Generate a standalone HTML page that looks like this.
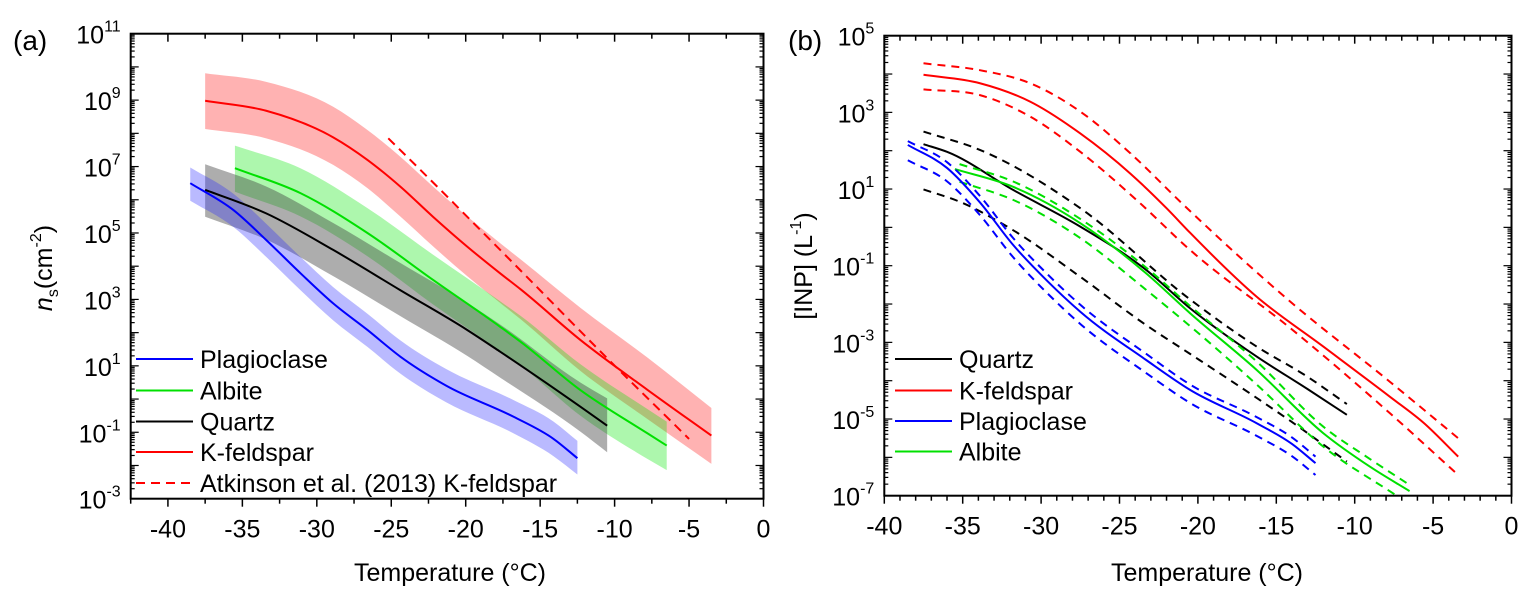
<!DOCTYPE html>
<html><head><meta charset="utf-8"><style>
html,body{margin:0;padding:0;background:#fff;}
svg{display:block;font-family:"Liberation Sans",Arial,sans-serif;}
</style></head><body>
<svg id="chart" width="1539" height="602" viewBox="0 0 1539 602" xmlns="http://www.w3.org/2000/svg">
<defs>
<clipPath id="clipA"><rect x="130.7" y="33.7" width="632.8" height="465"/></clipPath>
<clipPath id="clipB"><rect x="884.3" y="35.7" width="627.2" height="460"/></clipPath>
</defs>
</svg>
<script>
// ---------- Panel (a) data: log10 ns vs temperature ----------
const aKfT = [-37.5,-33.4,-28.9,-26.6,-24.4,-22.2,-19.9,-17.7,-16.3,-12.3,-7.8,-3.5];
const aKfMid = [8.98,8.68,7.88,7.2,6.4,5.49,4.59,3.79,3.3,1.78,0.28,-1.1];
const aKfUp = [9.81,9.55,8.8,8.1,7.3,6.4,5.5,4.7,4.2,2.75,1.25,-0.27];
const aKfLo = [8.13,7.85,7.05,6.35,5.5,4.6,3.7,2.9,2.4,0.85,-0.6,-1.95];
const aAtkT = [-25.2,-23.95,-16.8,-10.5,-5];
const aAtk = [7.85,7.3,4.09,1.23,-1.2];
const aAlT = [-35.5,-31.1,-26.6,-22.2,-17.7,-16.3,-12.3,-7.8,-6.5];
const aAlMid = [6.95,6.2,5.0,3.59,2.18,1.72,0.27,-1.03,-1.4];
const aAlUp = [7.63,6.95,5.75,4.35,2.95,2.5,1.05,-0.3,-0.68];
const aAlLo = [6.24,5.5,4.3,2.85,1.45,1.0,-0.5,-1.8,-2.14];
const aQzT = [-37.5,-33.4,-28.9,-24.4,-19.9,-17.7,-12.3,-10.5];
const aQzMid = [6.3,5.59,4.49,3.28,2.08,1.43,-0.23,-0.8];
const aQzUp = [7.07,6.4,5.3,4.1,2.9,2.25,0.5,0.02];
const aQzLo = [5.49,4.8,3.7,2.5,1.3,0.65,-0.98,-1.6];
const aPlT = [-38.5,-35.6,-33.4,-31.1,-28.9,-26.6,-24.4,-21.3,-16.8,-14.1,-12.5];
const aPlMid = [6.5,5.69,4.79,3.79,2.88,2.08,1.28,0.4,-0.53,-1.2,-1.78];
const aPlUp = [6.97,6.18,5.28,4.28,3.37,2.57,1.77,0.9,-0.03,-0.68,-1.26];
const aPlLo = [5.97,5.18,4.28,3.28,2.37,1.57,0.77,-0.1,-1.03,-1.72,-2.27];
const aXTicks = [-40,-35,-30,-25,-20,-15,-10,-5,0];
const aYTicks = [-3,-1,1,3,5,7,9,11];

// ---------- Panel (b) data: log10 [INP] vs temperature ----------
const bKfT = [-37.5,-33.9,-30.7,-27.5,-24.3,-22,-20.5,-16.25,-12,-7.75,-5.6,-3.4];
const bKf = [3.98,3.76,3.28,2.45,1.4,0.5,-0.14,-1.81,-3.11,-4.42,-5.1,-5.98];
const bKfUpT = [-37.5,-33.9,-30.7,-27.5,-24.3,-21,-14.1,-7.75,-3.4];
const bKfUp = [4.28,4.1,3.76,3.02,1.93,0.62,-1.94,-4.03,-5.5];
const bKfLoT = [-37.5,-33.9,-30.7,-27.5,-23.9,-20.5,-14.1,-7.75,-3.4];
const bKfLo = [3.6,3.45,2.89,1.97,0.71,-0.59,-2.63,-4.85,-6.46];
const bQzT = [-37.5,-36,-31.8,-27.5,-23.3,-20.5,-16.25,-13,-10.5];
const bQz = [2.17,1.97,0.98,0.02,-1.11,-2.11,-3.37,-4.22,-4.89];
const bQzUpT = [-37.5,-33.9,-27.5,-20.5,-16.25,-13,-10.5];
const bQzUp = [2.5,2.02,0.5,-1.88,-3.11,-3.9,-4.61];
const bQzLoT = [-37.5,-35.2,-31.8,-27.5,-23.3,-20.5,-16.25,-14.1,-10.5];
const bQzLo = [0.99,0.67,-0.07,-1.29,-2.55,-3.3,-4.45,-5.05,-6.11];
const bPlT = [-38.5,-36,-33.9,-31.8,-29.6,-27.5,-23.3,-20.5,-16.25,-14,-12.5];
const bPl = [2.15,1.55,0.65,-0.45,-1.4,-2.2,-3.46,-4.24,-5.11,-5.65,-6.15];
const bPlUp = [2.25,1.7,0.82,-0.27,-1.22,-2.02,-3.3,-4.1,-4.95,-5.48,-5.98];
const bPlLo = [1.75,1.2,0.32,-0.77,-1.72,-2.52,-3.8,-4.58,-5.44,-5.97,-6.46];
const bAlT = [-35.5,-31.8,-27.5,-23.3,-20.5,-16.25,-12,-9,-6.5];
const bAl = [1.52,1.06,0.11,-1.2,-2.24,-3.72,-5.37,-6.25,-6.88];
const bAlUpT = [-35.2,-31.8,-27.5,-23.3,-20.5,-16.25,-12,-9,-6.5];
const bAlUp = [1.65,1.2,0.22,-1.05,-2.05,-3.5,-5.2,-6.05,-6.72];
const bAlLoT = [-35.2,-31.8,-27.5,-23.3,-19,-16.25,-12,-7.4];
const bAlLo = [1.19,0.72,-0.28,-1.63,-3.1,-4.1,-5.72,-6.98];
const bXTicks = [-40,-35,-30,-25,-20,-15,-10,-5,0];
const bYTicks = [-7,-5,-3,-1,1,3,5];

const NS = "http://www.w3.org/2000/svg";
const svg = document.getElementById('chart');
function mk(tag, attrs, parent){
  const e = document.createElementNS(NS, tag);
  for (const k in attrs) e.setAttribute(k, attrs[k]);
  (parent||svg).appendChild(e);
  return e;
}
function axis(x0,x1,px0,px1){ return v => px0 + (v-x0)/(x1-x0)*(px1-px0); }
// Non-uniform cubic Hermite through points (x monotone), as Bezier segments
function curveSeg(p){
  const n = p.length;
  const h = [], d = [];
  for (let i=0;i<n-1;i++){ h.push(p[i+1][0]-p[i][0]); d.push((p[i+1][1]-p[i][1])/h[i]); }
  const m = [];
  for (let i=0;i<n;i++){
    if (i===0) m.push(d[0]);
    else if (i===n-1) m.push(d[n-2]);
    else m.push((d[i-1]*h[i] + d[i]*h[i-1])/(h[i-1]+h[i]));
  }
  let s = '';
  for (let i=0;i<n-1;i++){
    const k = h[i]/3;
    const c1 = [p[i][0]+k, p[i][1]+k*m[i]];
    const c2 = [p[i+1][0]-k, p[i+1][1]-k*m[i+1]];
    s += ` C${c1[0].toFixed(2)},${c1[1].toFixed(2)} ${c2[0].toFixed(2)},${c2[1].toFixed(2)} ${p[i+1][0].toFixed(2)},${p[i+1][1].toFixed(2)}`;
  }
  return s;
}
function pts(T, V, X, Y){ return T.map((t,i)=>[X(t), Y(V[i])]); }
function line(g,T,V,X,Y,color,dash,name){
  const p0 = pts(T,V,X,Y);
  const p = mk('path',{d:`M${p0[0][0]},${p0[0][1]}`+curveSeg(p0),fill:'none',stroke:color,'stroke-width':2,'stroke-dasharray':dash||'none'},g);
  
  
}
function band(g,T,U,L,X,Y,fill,name){
  const up = pts(T,U,X,Y), lo = pts(T,L,X,Y).reverse();
  const d = `M${up[0][0]},${up[0][1]}` + curveSeg(up) + ` L${lo[0][0]},${lo[0][1]}` + curveSeg(lo) + ' Z';
  const p = mk('path',{d:d,fill:fill,stroke:'none'},g);
  
  
}
function frame(L,R,T,B,X,Y,xTicks,xMinorStep,xmin,yTicks,ymin,ymax,xLabelCenter,name){
  const g = mk('g',{});
  
  
  mk('rect',{x:L,y:T,width:R-L,height:B-T,fill:'none',stroke:'#000','stroke-width':2},g);
  const n = Math.round(-xmin/xMinorStep);
  for (let i=0;i<=n;i++){
    const v = xmin + i*xMinorStep;
    const x = X(v); const major = Math.abs(v/5 - Math.round(v/5))<1e-6;
    const len = major?8:5;
    mk('line',{x1:x,y1:B,x2:x,y2:B+len,stroke:'#000','stroke-width':1.5},g);
    mk('line',{x1:x,y1:T,x2:x,y2:T+len,stroke:'#000','stroke-width':1.5},g);
  }
  xTicks.forEach(v=>{
    const t = mk('text',{x:X(v),y:B+39,'font-size':25,'text-anchor':'middle',fill:'#000'},g);
    t.textContent = String(v);
    
    
  });
  for (let d=ymin; d<ymax; d++){
    for (let m=1;m<10;m++){
      const y = Y(d+Math.log10(m)); const len = m===1?8:4;
      mk('line',{x1:L,y1:y,x2:L+len,y2:y,stroke:'#000','stroke-width':1.2},g);
      mk('line',{x1:R,y1:y,x2:R-len,y2:y,stroke:'#000','stroke-width':1.2},g);
    }
  }
  mk('line',{x1:L,y1:T,x2:L+8,y2:T,stroke:'#000','stroke-width':1.2},g);
  yTicks.forEach(v=>{
    const t = mk('text',{x:L-10,y:Y(v)+10,'font-size':25,'text-anchor':'end',fill:'#000'},g);
    
    
    const b = mk('tspan',{},t); b.textContent='10';
    const s = mk('tspan',{'font-size':16,dy:-12},t); s.textContent=String(v);
  });
  const xt = mk('text',{x:xLabelCenter,y:581,'font-size':25,'text-anchor':'middle',fill:'#000'},g);
  xt.textContent = 'Temperature (\u00B0C)';
  
  
}
function legend(items, lx0, lx1, tx, ys, name){
  const g = mk('g',{});
  
  
  items.forEach((it,i)=>{
    const e = mk('g',{},g);
    
    
    mk('line',{x1:lx0,y1:ys[i],x2:lx1,y2:ys[i],stroke:it[1],'stroke-width':2,'stroke-dasharray':it[2]||'none'},e);
    const t = mk('text',{x:tx,y:ys[i]+9,'font-size':25,fill:'#000'},e);
    t.textContent = it[0];
  });
}

// ---------- Panel (a) ----------
const aL=130.7, aR=763.5, aT=33.7, aB=498.7;
const aX = axis(-42.5,0,aL,aR);
const aY = axis(-3,11,aB,aT);
const ga = mk('g',{'clip-path':'url(#clipA)'});


band(ga,aKfT,aKfUp,aKfLo,aX,aY,'rgba(255,0,0,0.3)','kfeldspar-band');
band(ga,aAlT,aAlUp,aAlLo,aX,aY,'rgba(0,230,0,0.32)','albite-band');
band(ga,aQzT,aQzUp,aQzLo,aX,aY,'rgba(60,60,60,0.42)','quartz-band');
band(ga,aPlT,aPlUp,aPlLo,aX,aY,'rgba(40,40,255,0.32)','plagioclase-band');
line(ga,aKfT,aKfMid,aX,aY,'#ff0000',null,'kfeldspar-line');
line(ga,aAlT,aAlMid,aX,aY,'#00e000',null,'albite-line');
line(ga,aQzT,aQzMid,aX,aY,'#000000',null,'quartz-line');
line(ga,aPlT,aPlMid,aX,aY,'#0000ff',null,'plagioclase-line');
line(ga,aAtkT,aAtk,aX,aY,'#ff0000','9,6','atkinson-line');
frame(aL,aR,aT,aB,aX,aY,aXTicks,2.5,-42.5,aYTicks,-3,11,450,'panel-a');
legend([['Plagioclase','#0000ff'],['Albite','#00e000'],['Quartz','#000'],['K-feldspar','#ff0000'],['Atkinson et al. (2013) K-feldspar','#ff0000','9,6']],136,193,200,[359,390.5,421.5,452,483],'legend-a');
let t = mk('text',{x:13,y:50,'font-size':28,fill:'#000'}); t.textContent='(a)';
 
t = mk('text',{x:0,y:0,'font-size':25,'text-anchor':'middle',fill:'#000',transform:'translate(52,268) rotate(-90)'});
 
let s1 = mk('tspan',{'font-style':'italic'},t); s1.textContent='n';
let s2 = mk('tspan',{'font-size':16,dy:6},t); s2.textContent='s';
let s3 = mk('tspan',{dy:-6},t); s3.textContent='(cm';
let s4 = mk('tspan',{'font-size':16,dy:-11},t); s4.textContent='-2';
let s5 = mk('tspan',{dy:11},t); s5.textContent=')';

// ---------- Panel (b) ----------
const bL=884.3, bR=1511.5, bT=35.7, bB=495.7;
const bX = axis(-40,0,bL,bR);
const bY = axis(-7,5,bB,bT);
const gb = mk('g',{'clip-path':'url(#clipB)'});


line(gb,bKfUpT,bKfUp,bX,bY,'#ff0000','8,6','kfeldspar-upper');
line(gb,bKfLoT,bKfLo,bX,bY,'#ff0000','8,6','kfeldspar-lower');
line(gb,bKfT,bKf,bX,bY,'#ff0000',null,'kfeldspar-line-b');
line(gb,bQzUpT,bQzUp,bX,bY,'#000','8,6','quartz-upper');
line(gb,bQzLoT,bQzLo,bX,bY,'#000','8,6','quartz-lower');
line(gb,bQzT,bQz,bX,bY,'#000',null,'quartz-line-b');
line(gb,bAlUpT,bAlUp,bX,bY,'#00e000','8,6','albite-upper');
line(gb,bAlLoT,bAlLo,bX,bY,'#00e000','8,6','albite-lower');
line(gb,bAlT,bAl,bX,bY,'#00e000',null,'albite-line-b');
line(gb,bPlT,bPlUp,bX,bY,'#0000ff','8,6','plagioclase-upper');
line(gb,bPlT,bPlLo,bX,bY,'#0000ff','8,6','plagioclase-lower');
line(gb,bPlT,bPl,bX,bY,'#0000ff',null,'plagioclase-line-b');
frame(bL,bR,bT,bB,bX,bY,bXTicks,1,-40,bYTicks,-7,5,1207,'panel-b');
legend([['Quartz','#000'],['K-feldspar','#ff0000'],['Plagioclase','#0000ff'],['Albite','#00e000']],895,952,959,[359,390.5,421,451.5],'legend-b');
t = mk('text',{x:788,y:50,'font-size':28,fill:'#000'}); t.textContent='(b)';
 
t = mk('text',{x:0,y:0,'font-size':25,'text-anchor':'middle',fill:'#000',transform:'translate(812,266) rotate(-90)'});
 
let r1 = mk('tspan',{},t); r1.textContent='[INP] (L';
let r2 = mk('tspan',{'font-size':16,dy:-11},t); r2.textContent='-1';
let r3 = mk('tspan',{dy:11},t); r3.textContent=')';
</script>
</body></html>
